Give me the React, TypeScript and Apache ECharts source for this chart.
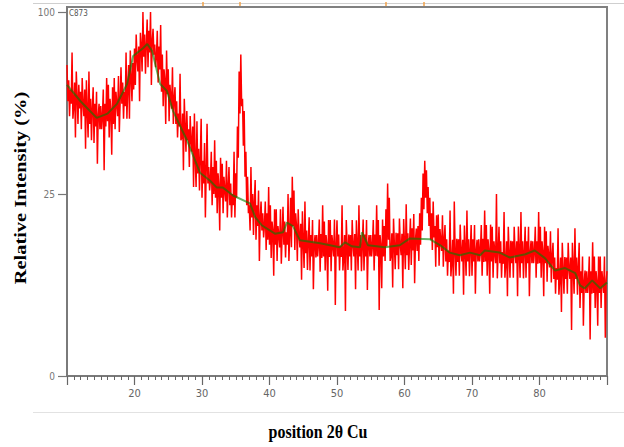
import React, { useEffect, useRef } from "react";
import * as echarts from "echarts";

// Scan: 2θ from 10° to 90°, step 0.125°
const thetaStart = 10;
const thetaStep = 0.125;

// Relative intensity (%), 8 readings per degree
const intensity10to30 = [
  73, 57, 66, 51, 62, 56, 79, 50,
  55, 65, 43, 70, 59, 48, 64, 54,
  61, 46, 67, 56, 51, 62, 39, 66,
  53, 43, 70, 48, 58, 42, 54, 63,
  41, 56, 47, 61, 34, 51, 56, 46,
  55, 46, 51, 62, 32, 56, 47, 67,
  49, 64, 43, 58, 53, 37, 63, 48,
  67, 46, 61, 56, 51, 68, 45, 57,
  72, 56, 65, 50, 61, 55, 79, 50,
  63, 73, 50, 80, 68, 57, 74, 62,
  81, 64, 88, 76, 70, 82, 57, 89,
  82, 70, 100, 77, 88, 69, 83, 96,
  72, 90, 79, 100, 64, 85, 91, 78,
  83, 72, 77, 90, 65, 82, 71, 93,
  61, 78, 55, 71, 66, 48, 80, 60,
  71, 49, 64, 59, 54, 72, 48, 58,
  63, 48, 57, 43, 52, 47, 69, 42,
  43, 52, 32, 58, 47, 38, 53, 42,
  46, 33, 51, 42, 38, 47, 27, 52,
  35, 27, 49, 31, 39, 26, 36, 50,
];
const intensity30to50 = [
  24, 35, 28, 41, 19, 32, 48, 28,
  33, 26, 29, 38, 22, 33, 25, 42,
  24, 35, 20, 31, 27, 16, 36, 24,
  34, 20, 30, 26, 23, 35, 19, 27,
  33, 22, 28, 19, 25, 22, 38, 19,
  31, 24, 47, 36, 70, 52, 78, 55,
  58, 40, 53, 30, 38, 22, 30, 20,
  22, 16, 33, 19, 25, 15, 23, 29,
  14, 22, 17, 26, 10, 19, 23, 16,
  20, 14.5, 17, 23, 12, 20, 14, 27,
  13, 22, 10.5, 18, 16, 7.6, 21, 13,
  21, 10, 17, 15, 12.5, 21, 9.5, 15,
  21.6, 13, 18, 10.6, 15.6, 13, 25, 10,
  15, 24, 12.5, 30, 17, 26, 12, 20,
  17, 10, 21, 15, 12.5, 17.5, 7, 20.5,
  13.5, 8.8, 23, 11.4, 16, 8.5, 13.6, 19,
  8.4, 15, 10.8, 18.4, 5.7, 13, 15, 10.6,
  15, 10.8, 12.9, 18.5, 8.2, 15.2, 10.5, 22,
  10.8, 18, 8.4, 15, 13, 5.5, 18.4, 10.7,
  18.4, 8.3, 15, 12.9, 10.8, 18.5, 3.8, 13,
];
const intensity50to70 = [
  18.3, 10.8, 15.1, 8.4, 12.8, 10.7, 22, 8.4,
  10.8, 15, 3.2, 18.4, 12.9, 8.5, 15.1, 10.8,
  15, 8.4, 18.4, 13, 10.8, 15.2, 5.7, 18.3,
  12.9, 8.4, 22, 10.8, 15, 8.3, 13, 18.5,
  8.4, 15.1, 10.8, 18.4, 5.6, 12.9, 15, 10.8,
  15, 10.8, 12.8, 18.4, 8.4, 15.1, 10.9, 22,
  10.8, 18.4, 3.3, 15, 12.9, 5.8, 18.5, 10.8,
  17, 10, 21, 12.7, 28, 14, 24, 10,
  11, 15.4, 5.9, 18.7, 13, 8.6, 15.5, 11,
  15.4, 8.6, 18.7, 13, 11, 15.3, 5.8, 18.6,
  13.1, 8.6, 22.3, 11, 15.4, 8.5, 13.2, 18.7,
  9.3, 16.5, 11.9, 19.8, 6.5, 14, 16.4, 11.8,
  17, 10, 20, 13, 24, 16, 31, 21,
  35, 24, 32, 20, 27, 17, 24, 14,
  20, 12, 23, 14.5, 17, 9, 19.5, 12.5,
  19.7, 9.2, 16.3, 13.9, 11.8, 19.5, 9, 14,
  17.2, 9.9, 14.1, 7.6, 11.9, 9.8, 20.7, 7.5,
  9.9, 14, 5.1, 23, 11.9, 7.6, 14.2, 9.8,
  14.1, 7.6, 17.3, 11.8, 9.9, 14, 5, 17.1,
  11.9, 7.6, 20.7, 9.9, 14.1, 7.5, 12, 17.2,
];
const intensity70to90 = [
  7.6, 14.1, 9.9, 17.2, 5.1, 11.9, 14, 9.9,
  14.1, 9.9, 11.9, 17.2, 7.6, 14.2, 9.8, 20.7,
  9.9, 17.2, 7.6, 14.1, 11.9, 5.1, 17.3, 9.9,
  16.8, 7.3, 13.7, 11.6, 9.6, 25, 7.2, 11.6,
  16.8, 9.6, 13.7, 7.3, 11.6, 9.5, 20.3, 7.3,
  9.6, 13.7, 4.8, 16.8, 11.6, 7.3, 13.8, 9.6,
  13.7, 7.3, 16.8, 11.6, 9.6, 13.7, 4.8, 16.9,
  11.6, 7.3, 20.3, 9.6, 13.7, 7.2, 11.7, 16.8,
  7.3, 13.7, 9.6, 16.8, 4.8, 11.6, 13.8, 9.6,
  13.7, 9.6, 11.6, 16.8, 7.3, 13.7, 9.5, 20.3,
  9.6, 16.8, 7.3, 13.7, 11.6, 4.8, 16.8, 9.6,
  15.8, 6.7, 12.8, 10.8, 8.9, 15.8, 6.6, 10.8,
  13.4, 7.1, 10.6, 5.1, 8.8, 7, 16.5, 5,
  7.1, 10.6, 3.1, 13.4, 8.8, 5.1, 10.7, 7.1,
  10.6, 5.1, 13.4, 8.8, 7.1, 10.6, 1.6, 13.4,
  8.8, 5.1, 16.5, 7.1, 10.6, 5, 8.9, 13.4,
  3.5, 8.3, 5.2, 10.8, 1.9, 6.7, 8.4, 5.2,
  8.3, 5.2, 6.7, 10.8, 1.0, 8.3, 5.1, 13.5,
  5.2, 10.8, 3.5, 8.3, 6.7, 1.9, 10.8, 5.2,
  10.8, 3.5, 8.3, 6.7, 5.2, 10.8, 1.1, 6.7,
  8.3,
];

// Fitted background (green)
const bgTheta = [
  10.0, 12.0, 14.4, 16.0, 17.4, 18.9, 19.8, 21.3, 21.9, 22.6, 23.8, 24.8, 25.7,
  27.8, 29.7, 31.2, 32.2, 33.1, 34.6, 37.1, 37.9, 38.9, 40.8, 42.0, 42.6, 43.5,
  44.5, 47.5, 50.4, 51.2, 52.2, 53.4, 53.7, 54.6, 57.1, 59.3, 60.8, 63.8, 65.3,
  66.7, 68.2, 69.7, 71.2, 71.9, 74.1, 75.6, 77.9, 79.3, 80.8, 82.3, 83.8, 85.3,
  86.0, 86.7, 87.8, 89.0, 90.0,
];
const bgIntensity = [
  64, 57, 50.3, 52, 55.9, 64.4, 77.3, 81.2, 83.2, 79.8, 64.4, 61.4, 53.1,
  41.8, 31.2, 28.8, 26.8, 26.8, 24.6, 22.5, 19.0, 17.1, 15.3, 15.6, 17.8, 16.9,
  13.9, 13.3, 12.5, 13.5, 12.7, 12.5, 15.6, 12.9, 12.5, 12.9, 14.3, 14.1, 12.9,
  11.5, 11.0, 11.5, 11.0, 11.9, 11.5, 10.6, 11.2, 11.9, 10.5, 8.4, 8.8, 8.0,
  6.2, 5.8, 6.9, 5.8, 6.6,
];

const yTickLabels = [0, 25, 100];
const refPeaks = [30.15, 35.63, 57.26, 62.89];

const narrowFont = '"Liberation Sans Narrow", "DejaVu Sans Condensed", "Liberation Sans", sans-serif';
const serifFont = '"Liberation Serif", "Times New Roman", serif';

export default function App() {
  const ref = useRef<HTMLDivElement>(null);
  useEffect(() => {
    if (!ref.current) return;
    const chart = echarts.init(ref.current, null, { renderer: "svg" });
    const all = [...intensity10to30, ...intensity30to50, ...intensity50to70, ...intensity70to90];
    const redData = all.map((v, i) => [thetaStart + i * thetaStep, Math.sqrt(v)]);
    const bgData = bgTheta.map((t, i) => [t, Math.sqrt(bgIntensity[i])]);
    const ySqrtTicks = yTickLabels.map((v) => Math.sqrt(v));

    const staticGraphics: any[] = [
      { type: "line", shape: { x1: 33, y1: 3.5, x2: 624, y2: 3.5 }, style: { stroke: "#cfcfcf", lineWidth: 1 }, silent: true },
      { type: "line", shape: { x1: 33, y1: 412.5, x2: 624, y2: 412.5 }, style: { stroke: "#e2e2e2", lineWidth: 1 }, silent: true },
      {
        type: "text", x: 20, y: 188, rotation: Math.PI / 2, scaleX: 1.2,
        style: { text: "Relative Intensity (%)", fontSize: 17, fontWeight: "bold", fontFamily: serifFont, fill: "#000", align: "center", verticalAlign: "middle" },
      },
      {
        type: "text", x: 318, y: 432, scaleY: 1.12,
        style: { text: "position 2θ Cu", fontSize: 16, fontWeight: "bold", fontFamily: serifFont, fill: "#000", align: "center", verticalAlign: "middle" },
      },
      {
        type: "text", x: 69, y: 13,
        style: { text: "C873", fontSize: 8, fontFamily: narrowFont, fill: "#555", align: "left", verticalAlign: "middle" },
      },
    ];

    chart.setOption({
      animation: false,
      grid: { left: 67, right: 17, top: 7, bottom: 71, show: true, borderColor: "#808080", borderWidth: 2 },
      xAxis: {
        type: "value", min: 10, max: 90, interval: 10,
        axisLine: { show: true, lineStyle: { color: "#7a7a7a", width: 2 } },
        axisTick: { show: true, length: 9, lineStyle: { color: "#666", width: 1.2 } },
        minorTick: { show: true, splitNumber: 10, length: 4, lineStyle: { color: "#666", width: 1 } },
        axisLabel: { showMinLabel: false, showMaxLabel: false, color: "#666", fontSize: 11, fontFamily: narrowFont, margin: 12 },
        splitLine: { show: false },
      },
      yAxis: {
        type: "value", min: 0, max: 10.14,
        axisLine: { show: true, lineStyle: { color: "#7a7a7a", width: 2 } },
        axisTick: { show: true, length: 9, lineStyle: { color: "#777", width: 1.2 }, customValues: ySqrtTicks },
        axisLabel: {
          customValues: ySqrtTicks, color: "#777", fontSize: 10, fontFamily: narrowFont, margin: 12,
          formatter: (v: number) => String(Math.round(v * v)),
        },
        splitLine: { show: false },
      },
      series: [
        {
          type: "line", data: redData, symbol: "none", showSymbol: false,
          lineStyle: { color: "#ff0000", width: 1.5 }, z: 2,
        },
        {
          type: "line", data: bgData, symbol: "none", showSymbol: false,
          lineStyle: { color: "#008000", width: 2, opacity: 0.6 }, z: 3,
        },
      ],
      graphic: staticGraphics,
    });

    const markers = refPeaks.map((t) => {
      const p = chart.convertToPixel({ gridIndex: 0 }, [t, 0]) as number[];
      return { type: "rect", shape: { x: p[0] - 0.75, y: 2, width: 1.5, height: 4 }, style: { fill: "#f2a24a" }, silent: true };
    });
    chart.setOption({ graphic: [...staticGraphics, ...markers] }, { replaceMerge: ["graphic"] });

    return () => chart.dispose();
  }, []);
  return <div ref={ref} style={{ position: "fixed", left: 0, top: 0, width: 624, height: 447, background: "#fff" }} />;
}
